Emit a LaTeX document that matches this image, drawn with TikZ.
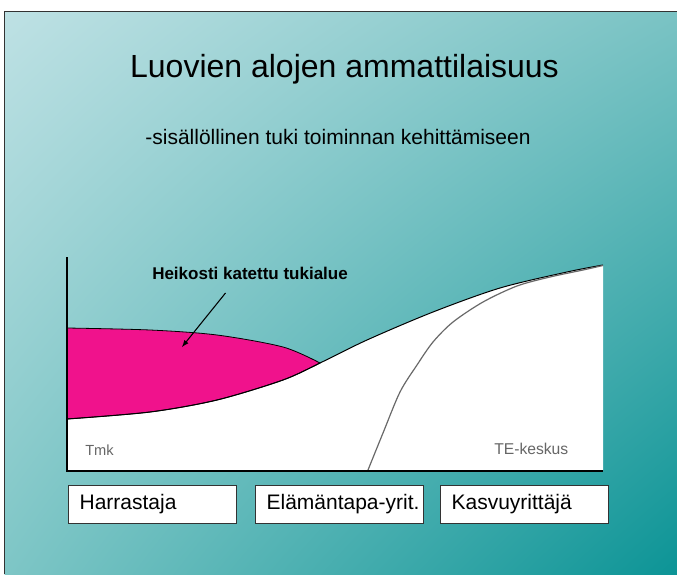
\documentclass[tikz,border=0pt]{standalone}
\usepackage{fontspec}
\setmainfont{Liberation Sans}
\usetikzlibrary{shadings}

\definecolor{slidelight}{RGB}{190,225,228}
\definecolor{slidetopright}{RGB}{122,195,196}
\definecolor{slidebotleft}{RGB}{126,198,198}
\definecolor{slidedark}{RGB}{12,148,150}
\definecolor{weakpink}{RGB}{240,18,140}
\definecolor{curvegray}{RGB}{105,105,105}

\tikzset{
  txt/.style={inner sep=0pt, anchor=base west},
  stagebox/.style={draw=black!80, fill=white, anchor=west, minimum height=28.5pt,
    inner xsep=8.5pt, text width=109pt, align=left, font=\fontsize{15.75pt}{18pt}\selectfont},
}

\begin{document}
\begin{tikzpicture}[x=0.75pt, y=-0.75pt]
\useasboundingbox (0,0) rectangle (677,574);
% slide background
\fill[white] (0,0) rectangle (677,574);
\shade[upper left=slidelight, upper right=slidetopright, lower left=slidebotleft, lower right=slidedark]
  (4.5,12) rectangle (677,574);
\draw[black!80, line width=0.75pt] (4.5,574) -- (4.5,12) -- (677,12);

% headings
\node[inner sep=0pt, anchor=base, font=\fontsize{24pt}{28pt}\selectfont] (title) at (344.5,78) {Luovien alojen ammattilaisuus};
\node[inner sep=0pt, anchor=base, font=\fontsize{15.75pt}{18pt}\selectfont] (subtitle) at (338,144) {-sisällöllinen tuki toiminnan kehittämiseen};

% white area and the weakly covered pink area
\fill[white] plot[smooth] coordinates {(67,419) (150,412) (217,400) (283,380) (320,363) (367,340) (433,312) (500,288) (567,272) (603,265)} -- (603,470) -- (67,470) -- cycle;
\filldraw[fill=weakpink, draw=black, line width=0.6pt] plot[smooth] coordinates {(67,328) (150,330) (217,335) (283,347) (320,363)}
  -- plot[smooth] coordinates {(320,363) (283,380) (217,400) (150,412) (67,419)} -- cycle;
\draw[black, line width=0.75pt] plot[smooth] coordinates {(67,419) (150,412) (217,400) (283,380) (320,363) (367,340) (433,312) (500,288) (567,272) (603,265)};
\draw[curvegray, line width=0.9pt] plot[smooth] coordinates {(368,470) (383,433) (400,392) (417,365) (433,342) (453,322) (483,302) (517,286) (550,277) (583,270) (603,265.5)};

% axes
\draw[line width=1.5pt] (67,257) -- (67,470.5) -- (603,470.5);

% labels
\node[txt, font=\bfseries\fontsize{12.75pt}{15pt}\selectfont] (note) at (152,279) {Heikosti katettu tukialue};
\coordinate (arrowstart) at (225.5,293);
\coordinate (arrowtip) at (182,347);
\draw[-latex, line width=0.8pt] (arrowstart) -- (arrowtip);
\node[txt, text=black!60, font=\fontsize{11pt}{13pt}\selectfont] (tmk) at (85,455) {Tmk};
\node[txt, text=black!60, font=\fontsize{11.75pt}{14pt}\selectfont] (tekeskus) at (494,454) {TE-keskus};

% stages
\node[stagebox] (harrastaja) at (68,504) {Harrastaja};
\node[stagebox] (elamantapa) at (255,504) {\mbox{Elämäntapa-yrit.}};
\node[stagebox] (kasvu) at (440,504) {Kasvuyrittäjä};
\end{tikzpicture}
\end{document}
